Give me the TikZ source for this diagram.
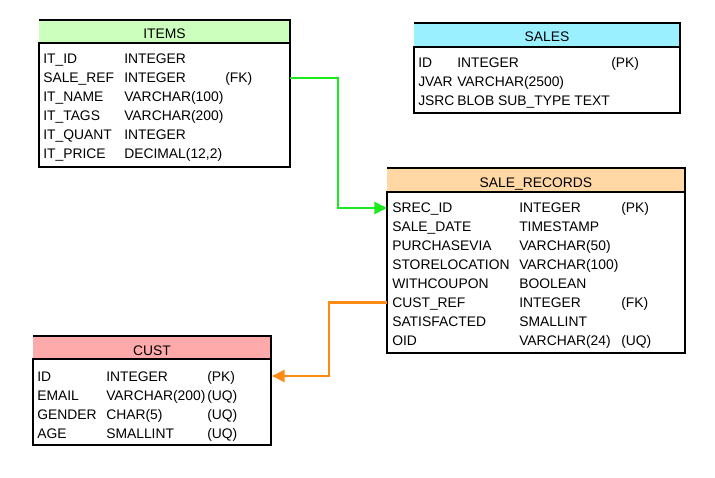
\documentclass[tikz,border=0pt]{standalone}
\usepackage{fontspec}
\setmainfont{Liberation Sans}
\usetikzlibrary{arrows.meta}
\definecolor{hgreen}{RGB}{204,255,190}
\definecolor{hcyan}{RGB}{155,240,255}
\definecolor{hpeach}{RGB}{255,216,166}
\definecolor{hpink}{RGB}{255,170,170}
\definecolor{lgreen}{RGB}{30,232,30}
\definecolor{lorange}{RGB}{255,138,20}
\tikzset{
  cell/.style={anchor=base west,inner sep=0pt,font=\fontsize{10.4}{12}\selectfont},
  hdr/.style={anchor=base,inner sep=0pt,font=\fontsize{10.4}{12}\selectfont},
  border/.style={draw=black,line width=0.8pt},
  conn/.style={line width=1.9pt,-{Triangle[length=9.5pt,width=9pt]}},
}
\begin{document}
\begin{tikzpicture}[x=0.75pt,y=-0.75pt]
\useasboundingbox (0,0) rectangle (715,478);
\fill[white] (0,0) rectangle (715,478);

% ---------- ITEMS ----------
\fill[hgreen] (38.5,19.5) rectangle (290,43);
\draw[border] (39,20) -- (290,20) -- (290,43);
\draw[border] (39,43) rectangle (290,167);
\node[hdr] (itemsH) at (164.5,39) {ITEMS};
\foreach \n/\t/\k [count=\i from 0] in {IT\_ID/INTEGER/,SALE\_REF/INTEGER/(FK),IT\_NAME/VARCHAR(100)/,IT\_TAGS/VARCHAR(200)/,IT\_QUANT/INTEGER/,IT\_PRICE/{DECIMAL(12,2)}/}{
  \node[cell] (itn\i) at (43,{64+19*\i}) {\n};
  \node[cell] (itt\i) at (124,{64+19*\i}) {\t};
  \node[cell] (itk\i) at (225,{64+19*\i}) {\k};
}
\coordinate (itemsR) at (290,78);

% ---------- SALES ----------
\fill[hcyan] (413.5,22.5) rectangle (680,47);
\draw[border] (414,23) -- (680,23) -- (680,47);
\draw[border] (414,47) rectangle (680,113);
\node[hdr] (salesH) at (547,42) {SALES};
\foreach \n/\t/\k [count=\i from 0] in {ID/INTEGER/(PK),JVAR/VARCHAR(2500)/,JSRC/BLOB SUB\_TYPE TEXT/}{
  \node[cell] (san\i) at (418,{68+19*\i}) {\n};
  \node[cell] (sat\i) at (457,{68+19*\i}) {\t};
  \node[cell] (sak\i) at (611,{68+19*\i}) {\k};
}

% ---------- SALE_RECORDS ----------
\fill[hpeach] (386.5,167.5) rectangle (685,192);
\draw[border] (387,168) -- (685,168) -- (685,192);
\draw[border] (387,192) rectangle (685,353);
\node[hdr] (srH) at (536,187) {SALE\_RECORDS};
\foreach \n/\t/\k [count=\i from 0] in {SREC\_ID/INTEGER/(PK),SALE\_DATE/TIMESTAMP/,PURCHASEVIA/VARCHAR(50)/,STORELOCATION/VARCHAR(100)/,WITHCOUPON/BOOLEAN/,CUST\_REF/INTEGER/(FK),SATISFACTED/SMALLINT/,OID/VARCHAR(24)/(UQ)}{
  \node[cell] (srn\i) at (392,{213+18.9*\i}) {\n};
  \node[cell] (srt\i) at (519,{213+18.9*\i}) {\t};
  \node[cell] (srk\i) at (621,{213+18.9*\i}) {\k};
}
\coordinate (srL) at (387,208);
\coordinate (srCust) at (387,302.5);

% ---------- CUST ----------
\fill[hpink] (32.5,335.5) rectangle (271,359);
\draw[border] (33,336) -- (271,336) -- (271,359);
\draw[border] (33,359) rectangle (271,445);
\node[hdr] (custH) at (152,355) {CUST};
\foreach \n/\t/\k [count=\i from 0] in {ID/INTEGER/(PK),EMAIL/VARCHAR(200)/(UQ),GENDER/CHAR(5)/(UQ),AGE/SMALLINT/(UQ)}{
  \node[cell] (cun\i) at (37,{381+19*\i}) {\n};
  \node[cell] (cut\i) at (106,{381+19*\i}) {\t};
  \node[cell] (cuk\i) at (207,{381+19*\i}) {\k};
}
\coordinate (custR) at (272,376);

% ---------- connectors ----------
\draw[conn,lgreen] (itemsR) -- ++(48,0) |- (srL);
\draw[conn,lorange] (srCust) -- ++(-58,0) |- (custR);
\end{tikzpicture}
\end{document}
